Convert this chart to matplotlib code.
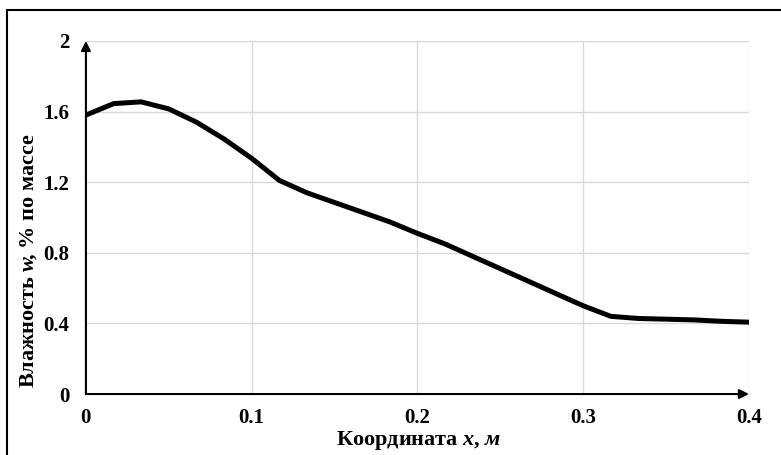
import matplotlib.pyplot as plt
from matplotlib.patches import Rectangle

plt.rcParams['font.family'] = ['Liberation Serif', 'DejaVu Serif']
plt.rcParams['font.weight'] = 'bold'
plt.rcParams['mathtext.fontset'] = 'custom'
plt.rcParams['mathtext.it'] = 'Liberation Serif:italic:bold'
plt.rcParams['mathtext.rm'] = 'Liberation Serif:bold'

# координата, м
x = [0, 0.0167, 0.0333, 0.05, 0.0667, 0.0833, 0.1, 0.1167, 0.1333, 0.15,
     0.1667, 0.1833, 0.2, 0.2167, 0.2333, 0.25, 0.2667, 0.2833, 0.3,
     0.3167, 0.3333, 0.35, 0.3667, 0.3833, 0.4]
# влажность, % по массе
w = [1.58, 1.645, 1.655, 1.615, 1.54, 1.445, 1.335, 1.21, 1.14, 1.085,
     1.03, 0.975, 0.91, 0.85, 0.78, 0.71, 0.64, 0.57, 0.5,
     0.44, 0.428, 0.424, 0.42, 0.412, 0.407]
xticks = [0, 0.1, 0.2, 0.3, 0.4]
xticklabels = ['0', '0.1', '0.2', '0.3', '0.4']
yticks = [0, 0.4, 0.8, 1.2, 1.6, 2]
yticklabels = ['0', '0.4', '0.8', '1.2', '1.6', '2']

fig = plt.figure(figsize=(7.81, 4.55), dpi=100)
ax = fig.add_axes([0.110, 0.134, 0.849, 0.776])

ax.plot(x, w, color='black', lw=3.6, solid_joinstyle='miter', zorder=3)

ax.set_xlim(0, 0.4)
ax.set_ylim(0, 2)
ax.set_xticks(xticks)
ax.set_xticklabels(xticklabels)
ax.set_yticks(yticks)
ax.set_yticklabels(yticklabels)
ax.tick_params(length=0, labelsize=15)
ax.tick_params(axis='y', pad=12)
ax.tick_params(axis='x', pad=10)
ax.grid(True, color='#d9d9d9', lw=1)
for s in ax.spines.values():
    s.set_visible(False)

# оси со стрелками
ax.annotate('', xy=(0, 2.0), xytext=(0, 0), annotation_clip=False,
            arrowprops=dict(arrowstyle='-|>', color='black', lw=1.5,
                            mutation_scale=14, shrinkA=0, shrinkB=0))
ax.annotate('', xy=(0.4, 0), xytext=(0, 0), annotation_clip=False,
            arrowprops=dict(arrowstyle='-|>', color='black', lw=1.5,
                            mutation_scale=14, shrinkA=0, shrinkB=0))

fig.text(419 / 781, 1 - 440 / 455, 'Координата $x$, $м$', fontsize=16,
         fontweight='bold', ha='center', va='center')
fig.text(29 / 781, 1 - 261 / 455, r'Влажность $w\!$, % по массе', fontsize=16,
         fontweight='bold', ha='center', va='center', rotation=90)

fig.patches.append(Rectangle((7 / 781, -0.05), 1.0, 1 - 10 / 455 + 0.05,
                             transform=fig.transFigure, fill=False,
                             edgecolor='black', lw=1.5))

fig.savefig('out.png', dpi=100)
